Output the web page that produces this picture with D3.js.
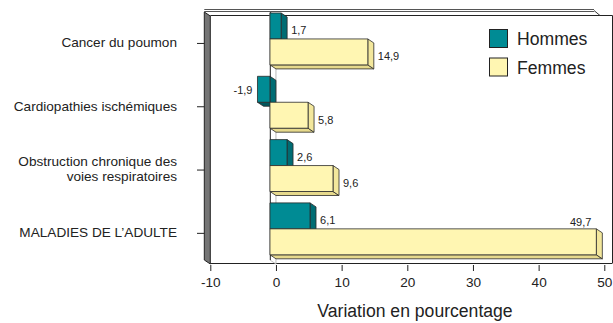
<!DOCTYPE html>
<html>
<head>
<meta charset="utf-8">
<script src="https://cdn.jsdelivr.net/npm/d3@7"></script>
<style>
  html, body { margin: 0; padding: 0; background: #fff; }
  svg { display: block; font-family: "Liberation Sans", Arial, sans-serif; }
</style>
</head>
<body>
<svg id="chart" width="613" height="323"></svg>
<script>
// Percentage change by cause, men vs women
const categories = ["Cancer du poumon", "Cardiopathies ischémiques", "Obstruction chronique des voies respiratoires", "MALADIES DE L’ADULTE"];
const categoryLines = [["Cancer du poumon"], ["Cardiopathies ischémiques"], ["Obstruction chronique des", "voies respiratoires"], ["MALADIES DE L’ADULTE"]];
const series = ["Hommes", "Femmes"];
const hommes = [1.7, -1.9, 2.6, 6.1];
const femmes = [14.9, 5.8, 9.6, 49.7];
const xTicks = [-10, 0, 10, 20, 30, 40, 50];
const xTitle = "Variation en pourcentage";

const colors = {
  Hommes: { front: "#008b94", side: "#006c73", bottom: "#00565c" },
  Femmes: { front: "#fff6b2", side: "#f3e79c", bottom: "#e6d98c" }
};

const svg = d3.select("#chart");
const DX = 6, DY = 4;            // depth offset of the 3-D box (back = front + offset)
const fmt = v => d3.format(".1f")(v).replace(".", ",").replace("\u2212", "-");

// x scale on the back plane, bars are drawn on the front plane (shifted by -DX)
const x = d3.scaleLinear().domain([-10, 50]).range([210.3, 604.3]);
const xf = v => x(v) - DX;

const y = d3.scaleBand().domain(categories).range([7.3, 260.5])
  .paddingInner(0.18).paddingOuter(0.09);
const ySub = d3.scaleBand().domain(series).range([0, y.bandwidth()]);

const plotTop = 12, plotBottom = 260;
const xLeftF = xf(-10);

// --- box frame ---
const frame = svg.append("g");
// back panel outline
frame.append("line").attr("x1", xLeftF + DX).attr("x2", 612.5).attr("y1", plotTop + DY - 0.5).attr("y2", plotTop + DY - 0.5)
  .attr("stroke", "#222").attr("stroke-width", 1);
frame.append("line").attr("x1", 612.5).attr("x2", 612.5).attr("y1", plotTop + DY - 0.5).attr("y2", plotBottom + DY - 1)
  .attr("stroke", "#222").attr("stroke-width", 1);
// top rim (double line) with slanted end
[9.5, 11.5].forEach(yy => {
  frame.append("line").attr("x1", xLeftF).attr("x2", 594).attr("y1", yy).attr("y2", yy)
    .attr("stroke", "#555").attr("stroke-width", 1);
});
frame.append("path").attr("d", `M594,10.5 L600,15.5`).attr("stroke", "#333").attr("fill", "none");

// left wall
frame.append("path")
  .attr("d", `M${xLeftF},${plotTop} L${xLeftF + DX},${plotTop + DY} L${xLeftF + DX},${plotBottom + DY} L${xLeftF},${plotBottom} Z`)
  .attr("fill", "#757575").attr("stroke", "#222").attr("stroke-width", 1);

// floor / axis line
frame.append("line").attr("x1", xLeftF + DX).attr("x2", 612.5).attr("y1", plotBottom + DY - 0.5).attr("y2", plotBottom + DY - 0.5)
  .attr("stroke", "#222").attr("stroke-width", 1);

// zero plane
const z0 = xf(0);
frame.append("path")
  .attr("d", `M${z0},${plotTop} L${z0 + DX},${plotTop + DY} L${z0 + DX},${plotBottom + DY} L${z0},${plotBottom} Z`)
  .attr("fill", "#fff").attr("stroke", "#aaa").attr("stroke-width", 0.8);
frame.append("line").attr("x1", z0 + 0.5).attr("x2", z0 + 0.5).attr("y1", plotTop).attr("y2", plotBottom)
  .attr("stroke", "#444").attr("stroke-width", 1);

// --- bars ---
const rows = [];
categories.forEach((c, i) => {
  rows.push({ cat: c, s: "Hommes", v: hommes[i] });
  rows.push({ cat: c, s: "Femmes", v: femmes[i] });
});

const barG = svg.append("g");
rows.forEach(d => {
  const x0 = Math.min(xf(0), xf(d.v)), x1 = Math.max(xf(0), xf(d.v));
  const y0 = y(d.cat) + ySub(d.s), y1 = y0 + ySub.bandwidth();
  const col = colors[d.s];
  const g = barG.append("g").attr("stroke", "#2a2a2a").attr("stroke-width", 0.8).attr("stroke-linejoin", "round");
  g.append("path").attr("fill", col.bottom)
    .attr("d", `M${x0},${y1} L${x1},${y1} L${x1 + DX},${y1 + DY} L${x0 + DX},${y1 + DY} Z`);
  g.append("path").attr("fill", col.side)
    .attr("d", `M${x1},${y0} L${x1 + DX},${y0 + DY} L${x1 + DX},${y1 + DY} L${x1},${y1} Z`);
  g.append("rect").attr("fill", col.front)
    .attr("x", x0).attr("y", y0).attr("width", x1 - x0).attr("height", y1 - y0);
});

// value labels
rows.forEach(d => {
  const y0 = y(d.cat) + ySub(d.s), ym = y0 + ySub.bandwidth() / 2 + DY;
  const t = svg.append("text").attr("font-size", 11).attr("fill", "#222").text(fmt(d.v));
  if (d.v < 0) {
    t.attr("x", xf(d.v) - 5).attr("y", ym - 3.5).attr("dy", "0.35em").attr("text-anchor", "end");
  } else if (x(d.v) + 30 > 612) {
    t.attr("x", x(d.v) - 11).attr("y", y0 - 3).attr("text-anchor", "end");
  } else {
    t.attr("x", x(d.v) + 4).attr("y", ym + 0.5).attr("dy", "0.35em");
  }
});

// --- category axis ---
const catG = svg.append("g");
categories.forEach((c, i) => {
  const cy = y(c) + y.bandwidth() / 2 + DY;
  catG.append("line").attr("x1", 197).attr("x2", xLeftF).attr("y1", cy + 0.5).attr("y2", cy + 0.5)
    .attr("stroke", "#222").attr("stroke-width", 1);
  const lines = categoryLines[i];
  const lh = 15;
  lines.forEach((ln, k) => {
    catG.append("text").attr("x", 177).attr("text-anchor", "end")
      .attr("y", cy - 0.5 + (k - (lines.length - 1) / 2) * lh).attr("dy", "0.35em")
      .attr("font-size", 13.6).attr("fill", "#222").text(ln);
  });
});

// --- value axis ---
const axisG = svg.append("g").attr("transform", `translate(0,${plotBottom + DY + 1})`)
  .call(d3.axisBottom(x).tickValues(xTicks).tickSize(6).tickPadding(6).tickFormat(d => String(d)));
axisG.select(".domain").remove();
axisG.selectAll(".tick line").attr("stroke", "#222");
axisG.selectAll(".tick text").attr("font-size", 13.6).attr("fill", "#222")
  .attr("font-family", "Liberation Sans, Arial, sans-serif");

svg.append("text").attr("x", 415).attr("y", 316.5).attr("text-anchor", "middle")
  .attr("font-size", 17.6).attr("fill", "#222").text(xTitle);

// --- legend ---
const leg = svg.append("g");
series.forEach((s, i) => {
  leg.append("rect").attr("x", 489.5).attr("y", 29.5 + i * 28.5).attr("width", 18).attr("height", 18)
    .attr("fill", colors[s].front).attr("stroke", "#222").attr("stroke-width", 1);
  leg.append("text").attr("x", 517).attr("y", 39 + i * 28.5).attr("dy", "0.35em")
    .attr("font-size", 17.6).attr("fill", "#222").text(s);
});
</script>
</body>
</html>
